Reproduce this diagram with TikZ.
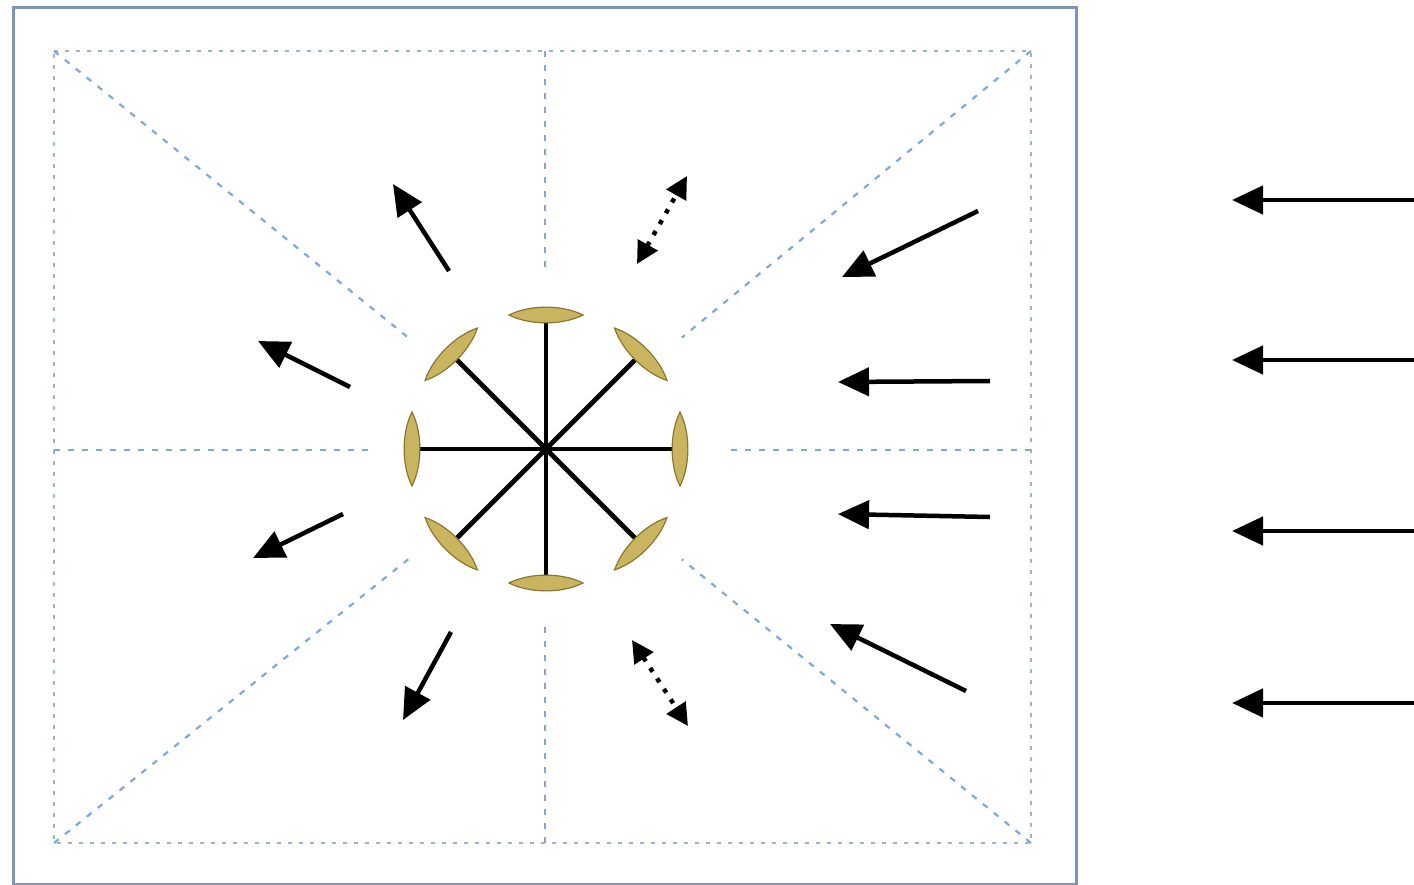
\documentclass[tikz,border=0pt]{standalone}
\usetikzlibrary{arrows.meta,calc}
\definecolor{framec}{RGB}{127,148,184}
\definecolor{dotc}{RGB}{160,178,206}
\definecolor{dashc}{RGB}{130,166,220}
\definecolor{lensfill}{RGB}{201,180,95}
\definecolor{lensdraw}{RGB}{140,118,50}
\tikzset{
  frameline/.style={draw=framec,line width=3pt},
  dotline/.style={draw=dotc,line width=2.4pt,dash pattern=on 4pt off 7pt},
  dashline/.style={draw=dashc,line width=2.2pt,dash pattern=on 6pt off 8pt},
  spoke/.style={draw=black,line width=4.8pt},
  lens/.style={fill=lensfill,draw=lensdraw,line width=1.2pt},
  bigarrow/.style={draw=black,line width=4.5pt,-{Triangle[length=31pt,width=28pt]}},
  dotarrow/.style={draw=black,line width=4.5pt,dash pattern=on 4.5pt off 8pt,
    {Triangle[length=22pt,width=22pt]}-{Triangle[length=22pt,width=22pt]}},
}
\begin{document}
\begin{tikzpicture}[x=1pt,y=-1pt]
\useasboundingbox (0,0) rectangle (1414,885);
% outer frame
\draw[frameline] (13,8) rectangle (1076,884);
% inner dotted rectangle
\coordinate (tl) at (54,51);
\coordinate (tr) at (1031,51);
\coordinate (br) at (1031,843);
\coordinate (bl) at (54,843);
\coordinate (c) at (546,449);
\draw[dotline] (tl) -- (tr) -- (br) -- (bl) -- cycle;
% diagonals
\draw[dashline] (tl) -- ($(tl)!0.72!(c)$);
\draw[dashline] (tr) -- ($(tr)!0.72!(c)$);
\draw[dashline] (bl) -- ($(bl)!0.72!(c)$);
\draw[dashline] (br) -- ($(br)!0.72!(c)$);
% mid lines
\coordinate (mt) at (545,51);
\coordinate (mb) at (545,843);
\coordinate (ml) at (54,450);
\coordinate (mr) at (1031,450);
\draw[dashline] (mt) -- (545,270);
\draw[dashline] (mb) -- (545,625);
\draw[dashline] (ml) -- (372,450);
\draw[dashline] (mr) -- (725,450);
% star
\foreach \a in {0,45,...,315}{
  \draw[spoke] (c) -- ++(\a:130);
}
\fill[black] (c) circle (6pt);
\foreach \a in {0,45,...,315}{
  \coordinate (m) at ($(c)+(\a:134)$);
  \path[lens] ($(m)+(\a+90:37)$)
     .. controls ($(m)+(\a+90:16)+(\a:10.5)$) and ($(m)+(\a-90:16)+(\a:10.5)$) .. ($(m)+(\a-90:37)$)
     .. controls ($(m)+(\a-90:16)+(\a:-10.5)$) and ($(m)+(\a+90:16)+(\a:-10.5)$) .. cycle;
}
% inner arrows
\coordinate (a1s) at (449,271); \coordinate (a1e) at (393,184);
\coordinate (a2s) at (350,387); \coordinate (a2e) at (258,341);
\coordinate (a3s) at (343,514); \coordinate (a3e) at (253,558);
\coordinate (a4s) at (451,632); \coordinate (a4e) at (403,720);
\draw[bigarrow] (a1s) -- (a1e);
\draw[bigarrow] (a2s) -- (a2e);
\draw[bigarrow] (a3s) -- (a3e);
\draw[bigarrow] (a4s) -- (a4e);
% dotted double arrows
\coordinate (d1s) at (637,264); \coordinate (d1e) at (687,176);
\coordinate (d2s) at (632,640); \coordinate (d2e) at (688,726);
\draw[dotarrow] (d1s) -- (d1e);
\draw[dotarrow] (d2s) -- (d2e);
% right inward arrows
\coordinate (r1s) at (978,211); \coordinate (r1e) at (842,277);
\coordinate (r2s) at (990,381); \coordinate (r2e) at (838,382);
\coordinate (r3s) at (990,517); \coordinate (r3e) at (838,514);
\coordinate (r4s) at (966,691); \coordinate (r4e) at (830,624);
\draw[bigarrow] (r1s) -- (r1e);
\draw[bigarrow] (r2s) -- (r2e);
\draw[bigarrow] (r3s) -- (r3e);
\draw[bigarrow] (r4s) -- (r4e);
% far right arrows
\coordinate (f1s) at (1416,200); \coordinate (f1e) at (1232,200);
\coordinate (f2s) at (1416,360); \coordinate (f2e) at (1232,360);
\coordinate (f3s) at (1416,531); \coordinate (f3e) at (1232,531);
\coordinate (f4s) at (1416,703); \coordinate (f4e) at (1232,703);
\draw[bigarrow] (f1s) -- (f1e);
\draw[bigarrow] (f2s) -- (f2e);
\draw[bigarrow] (f3s) -- (f3e);
\draw[bigarrow] (f4s) -- (f4e);
\end{tikzpicture}
\end{document}
